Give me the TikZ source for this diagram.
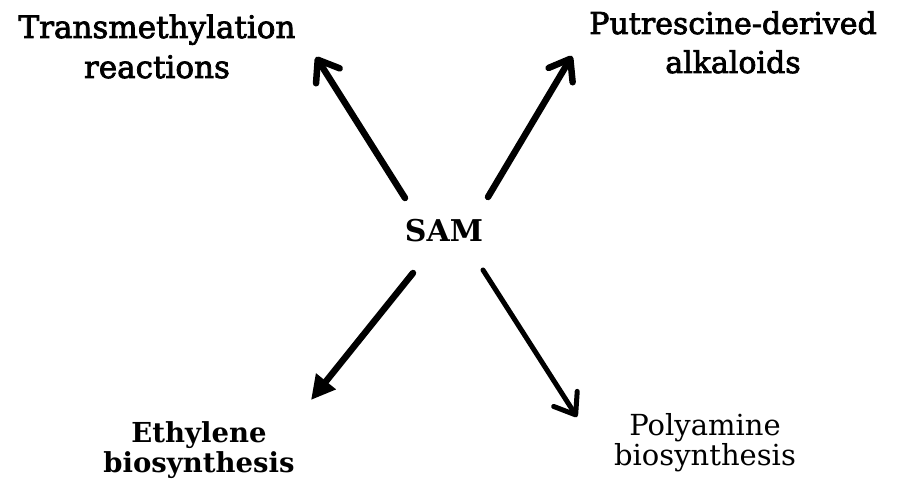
\documentclass[tikz,border=0pt]{standalone}
\usepackage{fontspec}
\setmainfont{DejaVu Serif}
\newfontfamily\semib[FakeBold=2.5]{DejaVu Serif}
\usetikzlibrary{arrows.meta}
\begin{document}
\begin{tikzpicture}[x=1pt,y=-1pt,
  lbl/.style={align=center,inner sep=0pt,font=\fontsize{30}{39}\selectfont},
  lblb/.style={align=center,inner sep=0pt,font=\fontsize{27.5}{30}\selectfont},
  lblp/.style={align=center,inner sep=0pt,font=\fontsize{29}{30}\selectfont},
  arr/.style={line width=6.5pt,line cap=round},
  openhead/.style={-{Straight Barb[length=19pt,width=28pt,line cap=round,line join=round]}},
  fillhead/.style={-{Triangle[length=24pt,width=24pt]}}]
\useasboundingbox (0,0) rectangle (899,486);
\node[lbl,anchor=base,font=\fontsize{31}{40}\selectfont] (trans) at (157,78) {\semib Transmethylation\\ \semib reactions};
\node[lbl,anchor=base] (putr) at (733,73) {\semib Putrescine-derived\\ \semib alkaloids};
\node[lbl,anchor=base] (sam) at (444,242) {\bfseries SAM};
\node[lblb,anchor=base] (ethy) at (199,472) {\bfseries Ethylene\\ \bfseries biosynthesis};
\node[lblp,anchor=base] (poly) at (705,465) {Polyamine\\ biosynthesis};
\coordinate (a1s) at (405,198); \coordinate (a1e) at (316,57);
\coordinate (a2s) at (488,197); \coordinate (a2e) at (572,56);
\coordinate (a3s) at (413,273); \coordinate (a3e) at (311,400);
\coordinate (a4s) at (483,270); \coordinate (a4e) at (577,417);
\draw[arr,openhead] (a1s) -- (a1e);
\draw[arr,openhead] (a2s) -- (a2e);
\draw[arr,fillhead] (a3s) -- (a3e);
\draw[arr,openhead,line width=5pt] (a4s) -- (a4e);
\end{tikzpicture}
\end{document}
